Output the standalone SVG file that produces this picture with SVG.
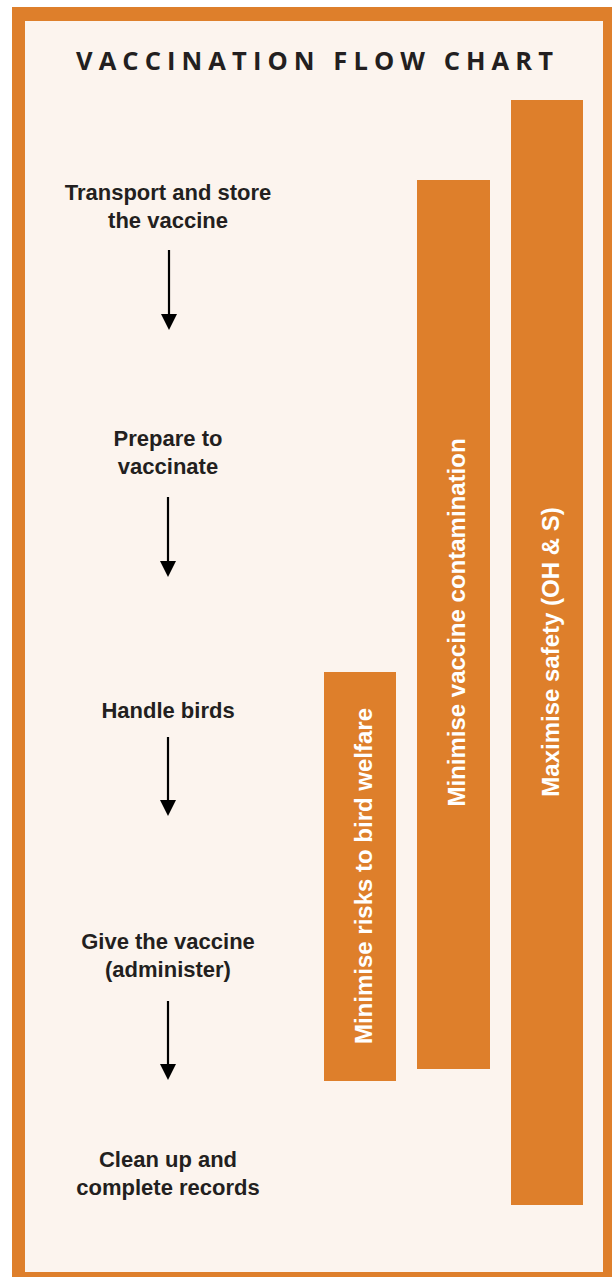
<svg xmlns="http://www.w3.org/2000/svg" width="612" height="1277" viewBox="0 0 612 1277">
<defs>
<style>
.frame{fill:#DE7F2B}
.bg{fill:#FCF4EE}
.bar{fill:#DE7F2B}
.title{font-family:"Open Sans","Liberation Sans",sans-serif;font-weight:700;font-size:25.5px;fill:#231F20}
.step{font-family:"Liberation Sans",Arial,sans-serif;font-weight:bold;font-size:22px;fill:#231F20;text-anchor:middle}
.vlabel{font-family:"Liberation Sans",Arial,sans-serif;font-weight:bold;font-size:24px;fill:#FFFFFF;text-anchor:middle}
.conn{stroke:#000;stroke-width:2.2;fill:none;marker-end:url(#ah)}
</style>
<marker id="ah" viewBox="0 0 16 16" markerWidth="16" markerHeight="16" markerUnits="userSpaceOnUse" orient="auto" refX="0" refY="8">
<path d="M0,0 L16,8 L0,16 z" fill="#000"/>
</marker>
</defs>
<rect x="0" y="0" width="612" height="1277" fill="#FFFFFF"/>
<rect class="frame" x="12" y="7" width="600" height="1270"/>
<rect class="bg" x="25" y="21" width="578" height="1251"/>
<g id="title">
<text class="title" x="76" y="69.5" textLength="477" lengthAdjust="spacing">VACCINATION FLOW CHART</text>
</g>
<g id="bar-safety">
<rect class="bar" x="511" y="100" width="72" height="1105"/>
<text class="vlabel" transform="translate(558.5,652) rotate(-90)">Maximise safety (OH &amp; S)</text>
</g>
<g id="bar-contamination">
<rect class="bar" x="417" y="180" width="73" height="889"/>
<text class="vlabel" transform="translate(465,622.5) rotate(-90)">Minimise vaccine contamination</text>
</g>
<g id="bar-welfare">
<rect class="bar" x="324" y="672" width="72" height="409"/>
<text class="vlabel" transform="translate(372,876) rotate(-90)">Minimise risks to bird welfare</text>
</g>
<g id="step-transport">
<text class="step" x="168" y="200">Transport and store</text>
<text class="step" x="168" y="228">the vaccine</text>
</g>
<g id="step-prepare">
<text class="step" x="168" y="446">Prepare to</text>
<text class="step" x="168" y="474">vaccinate</text>
</g>
<g id="step-handle">
<text class="step" x="168" y="718">Handle birds</text>
</g>
<g id="step-give">
<text class="step" x="168" y="949">Give the vaccine</text>
<text class="step" x="168" y="977">(administer)</text>
</g>
<g id="step-clean">
<text class="step" x="168" y="1167">Clean up and</text>
<text class="step" x="168" y="1195">complete records</text>
</g>
<g id="connectors">
<line class="conn" x1="169" y1="250" x2="169" y2="314"/>
<line class="conn" x1="168" y1="497" x2="168" y2="561"/>
<line class="conn" x1="168" y1="737" x2="168" y2="800"/>
<line class="conn" x1="168" y1="1001" x2="168" y2="1064"/>
</g>
</svg>
